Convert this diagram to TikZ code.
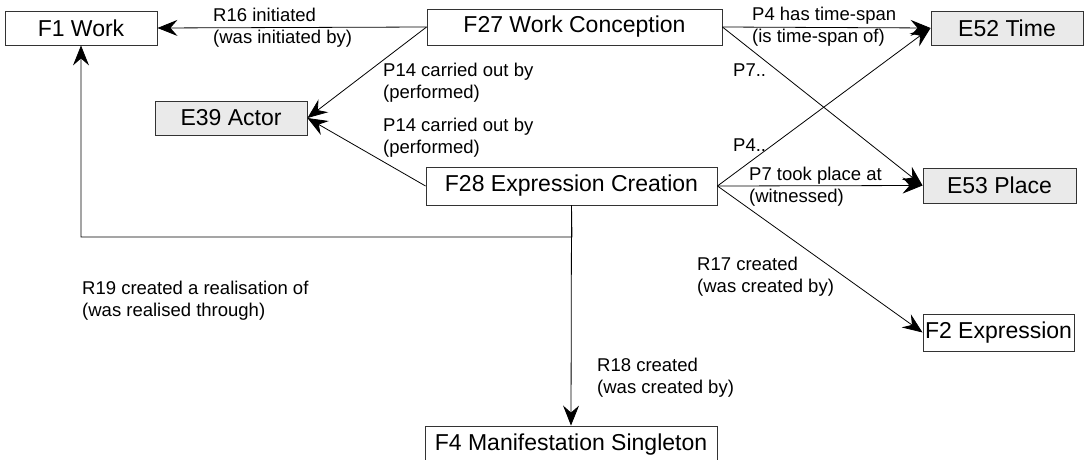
\documentclass[tikz,border=0pt]{standalone}
\usepackage{fontspec}
\setmainfont{Liberation Sans}
\usetikzlibrary{arrows.meta,positioning}

\definecolor{boxline}{HTML}{333333}
\definecolor{entityfill}{HTML}{EAEAEA}

\tikzset{
  cls/.style={draw=boxline, line width=0.9pt, fill=white, inner sep=0pt,
              font=\fontsize{23}{26}\selectfont},
  ent/.style={cls, fill=entityfill},
  lbl/.style={anchor=west, align=left, inner sep=0pt,
              font=\fontsize{18.5}{22}\selectfont},
  arr/.style={line width=0.8pt,
              -{Stealth[length=20pt,width=16pt,inset=7pt]}},
}

\begin{document}
\begin{tikzpicture}[x=1pt,y=-1pt]
\useasboundingbox (0,0) rectangle (1084,460);

% classes and entities
\node[cls, minimum width=152pt, minimum height=34pt] (f1)  at (81,28)    {F1 Work};
\node[cls, minimum width=295pt, minimum height=36pt] (f27) at (574.5,27) {F27 Work Conception};
\node[ent, minimum width=152pt, minimum height=34pt] (e52) at (1007,28)  {E52 Time};
\node[ent, minimum width=152pt, minimum height=34pt] (e39) at (231,118)  {E39 Actor};
\node[cls, minimum width=291pt, minimum height=38pt] (f28) at (571.5,186) {F28 Expression Creation};
\node[ent, minimum width=153pt, minimum height=35pt] (e53) at (999.5,185.5) {E53 Place};
\node[cls, minimum width=151pt, minimum height=37pt] (f2)  at (998.5,332.5) {F2 Expression};
\node[cls, minimum width=292pt, minimum height=38pt] (f4)  at (571,445)  {F4 Manifestation Singleton};

\coordinate (bend) at (572,237);

% properties
\draw[arr] (f27.west) -- (f1.east);
\draw[arr] (f27.west) -- (e39.east);
\draw[arr] (f28.west) -- (e39.east);
\draw[arr] (f27.east) -- (e52.west);
\draw[arr] (f27.east) -- (e53.west);
\draw[arr] (f28.east) -- (e52.west);
\draw[arr] (f28.east) -- (e53.west);
\draw[arr] (f28.east) -- (f2.west);
\draw[arr] (f28.south) -- (f4.north);
\draw[arr] (f28.south) -- (bend) -| (f1.south);

% property labels
\node[lbl] (l16)  at (213,27.5)  {R16 initiated\\(was initiated by)};
\node[lbl] (l14a) at (383,82.5)  {P14 carried out by\\(performed)};
\node[lbl] (l14b) at (383,137.5) {P14 carried out by\\(performed)};
\node[lbl] (l4)   at (752,27)    {P4 has time-span\\(is time-span of)};
\node[lbl] (l7s)  at (733,70)    {P7..};
\node[lbl] (l4s)  at (733,145)   {P4..};
\node[lbl] (l7)   at (749,186.5) {P7 took place at\\(witnessed)};
\node[lbl] (l17)  at (697,276.5) {R17 created\\(was created by)};
\node[lbl] (l18)  at (597,378)   {R18 created\\(was created by)};
\node[lbl] (l19)  at (82,300.5)  {R19 created a realisation of\\(was realised through)};
\end{tikzpicture}
\end{document}
